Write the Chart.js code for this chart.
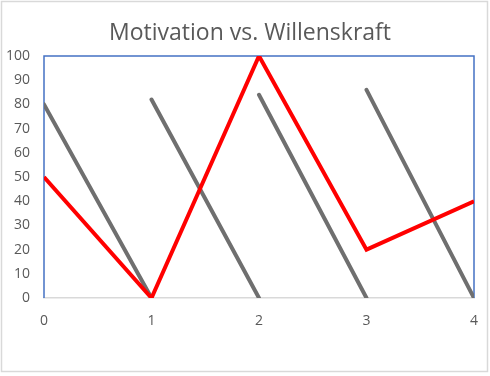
<!DOCTYPE html>
<html lang="de">
<head>
    <meta charset="UTF-8">
    <title>Motivation vs. Willenskraft</title>
    <script src="https://cdn.jsdelivr.net/npm/chart.js"></script>
    <style>
        body { margin: 0; background: #fff; }
    </style>
</head>
<body>
    <canvas id="chart1" width="490" height="376"></canvas>

    <script>
        // Werte
        var titel = 'Motivation vs. Willenskraft';
        var xWerte = [0, 1, 2, 3, 4];
        var motivation = [50, 0, 100, 20, 40];
        // Willenskraft: jede Linie startet bei x und faellt bis x+1 auf 0
        var willenStart = [80, 82, 84, 86];
        var willenEnde = [0, 0, 0, 0];
        var yTicks = [0, 10, 20, 30, 40, 50, 60, 70, 80, 90, 100];

        var motivationPunkte = [];
        for (var i = 0; i < xWerte.length; i++) {
            motivationPunkte.push({ x: xWerte[i], y: motivation[i] });
        }

        var willenPunkte = [];
        for (var j = 0; j < willenStart.length; j++) {
            if (j > 0) willenPunkte.push({ x: xWerte[j], y: null });
            willenPunkte.push({ x: xWerte[j], y: willenStart[j] });
            willenPunkte.push({ x: xWerte[j + 1], y: willenEnde[j] });
        }

        // Rahmen um Plotflaeche und Diagramm, Titel mittig ueber dem ganzen Bild
        var rahmen = {
            id: 'rahmen',
            beforeDatasetsDraw: function (chart) {
                var a = chart.chartArea;
                var ctx = chart.ctx;
                ctx.save();
                ctx.strokeStyle = '#4472c4';
                ctx.lineWidth = 1.5;
                ctx.beginPath();
                ctx.moveTo(a.left, a.bottom);
                ctx.lineTo(a.left, a.top);
                ctx.lineTo(a.right, a.top);
                ctx.lineTo(a.right, a.bottom);
                ctx.stroke();
                ctx.restore();
            },
            afterDraw: function (chart) {
                var ctx = chart.ctx;
                ctx.save();
                ctx.strokeStyle = '#d9d9d9';
                ctx.lineWidth = 1.5;
                ctx.strokeRect(1.5, 1.5, 486, 370);
                ctx.fillStyle = '#595959';
                ctx.font = '23px "Open Sans"';
                ctx.textAlign = 'center';
                ctx.textBaseline = 'middle';
                ctx.fillText(titel, 250, 33);
                ctx.restore();
            }
        };

        var ctx = document.getElementById('chart1').getContext('2d');
        var chart = new Chart(ctx, {
            type: 'line',
            data: {
                datasets: [{
                    label: 'Motivation',
                    data: motivationPunkte,
                    borderColor: '#ff0000',
                    borderWidth: 4,
                    pointRadius: 0,
                    tension: 0,
                    order: 0
                }, {
                    label: 'Willenskraft',
                    data: willenPunkte,
                    borderColor: '#6f6f6f',
                    borderWidth: 4,
                    pointRadius: 0,
                    tension: 0,
                    spanGaps: false,
                    borderCapStyle: 'round',
                    order: 1
                }]
            },
            options: {
                responsive: false,
                animation: false,
                layout: { padding: { left: 0, right: 16, top: 56, bottom: 0 } },
                plugins: {
                    legend: { display: false },
                    tooltip: { enabled: false },
                    title: { display: false }
                },
                scales: {
                    x: {
                        type: 'linear',
                        min: 0,
                        max: 4,
                        grid: { display: false },
                        border: { color: '#d9d9d9', width: 1.5 },
                        ticks: {
                            stepSize: 1,
                            color: '#595959',
                            padding: 7,
                            font: { family: 'Open Sans', size: 14 }
                        },
                        afterFit: function (scale) { scale.height = 78; }
                    },
                    y: {
                        min: 0,
                        max: 100,
                        grid: { display: false },
                        border: { display: false },
                        afterBuildTicks: function (scale) {
                            scale.ticks = yTicks.map(function (v) { return { value: v }; });
                        },
                        ticks: {
                            color: '#595959',
                            padding: 6,
                            font: { family: 'Open Sans', size: 14 }
                        },
                        afterFit: function (scale) { scale.width = 44; }
                    }
                }
            },
            plugins: [rahmen]
        });
    </script>
</body>
</html>
